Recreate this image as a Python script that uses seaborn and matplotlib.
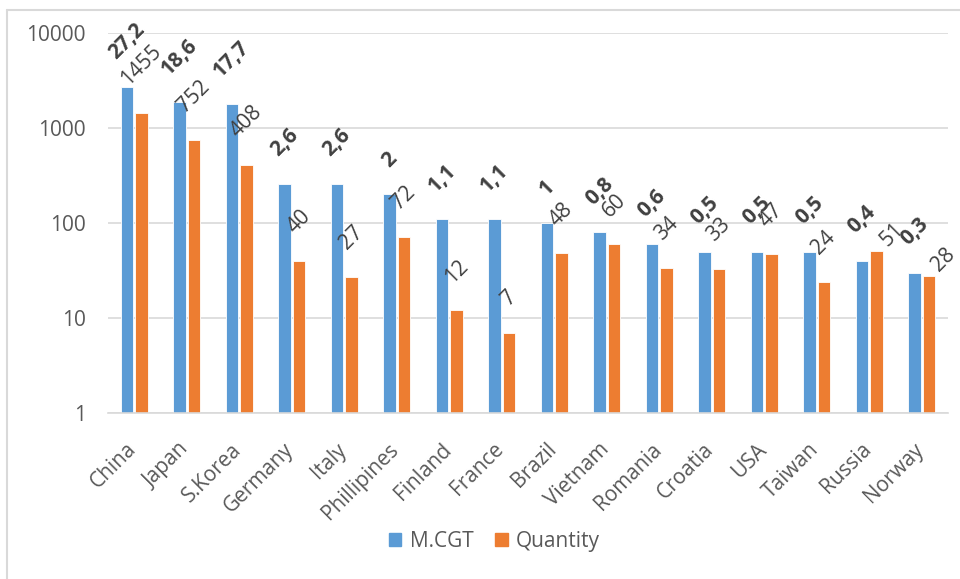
import matplotlib
matplotlib.use("Agg")
import matplotlib.pyplot as plt
from matplotlib.lines import Line2D
import matplotlib.transforms as mtransforms
import seaborn as sns
import pandas as pd

countries = ["China", "Japan", "S.Korea", "Germany", "Italy", "Phillipines", "Finland",
             "France", "Brazil", "Vietnam", "Romania", "Croatia", "USA", "Taiwan",
             "Russia", "Norway"]
mcgt = [27.2, 18.6, 17.7, 2.6, 2.6, 2.0, 1.1, 1.1, 1.0, 0.8, 0.6, 0.5, 0.5, 0.5, 0.4, 0.3]
quantity = [1455, 752, 408, 40, 27, 72, 12, 7, 48, 60, 34, 33, 47, 24, 51, 28]
series = ["M.CGT", "Quantity"]
yticks = [1, 10, 100, 1000, 10000]

# M.CGT is shown on the same log axis in units of 10 000 CGT
CGT_SCALE = 100

blue, orange = "#5B9BD5", "#ED7D31"
label_col = "#404040"
axis_col = "#595959"
grid_col = "#D9D9D9"

df = pd.DataFrame({
    "country": countries * 2,
    "series": [series[0]] * len(countries) + [series[1]] * len(countries),
    "value": [v * CGT_SCALE for v in mcgt] + quantity,
})

sns.set_theme(style="white")
plt.rcParams["font.family"] = ["Open Sans", "DejaVu Sans"]

fig = plt.figure(figsize=(9.6, 5.79), dpi=100)
ax = fig.add_axes([108 / 960, 1 - 413 / 579, 840 / 960, 380 / 579])

sns.barplot(data=df, x="country", y="value", hue="series", order=countries,
            hue_order=series, palette=[blue, orange], saturation=1, width=0.55,
            gap=0.12, edgecolor="white", linewidth=0.6, ax=ax, legend=False)

ax.set_yscale("log")
ax.set_ylim(1, 10000)
ax.set_xlim(-0.5, len(countries) - 0.5)
ax.set_yticks(yticks)
ax.set_yticklabels([str(t) for t in yticks])
ax.minorticks_off()
ax.yaxis.grid(True, color=grid_col, linewidth=1.2)
ax.set_axisbelow(True)
ax.set_xlabel("")
ax.set_ylabel("")
for s in ["left", "right", "top"]:
    ax.spines[s].set_visible(False)
ax.spines["bottom"].set_color(grid_col)
ax.spines["bottom"].set_linewidth(1.2)
ax.tick_params(axis="y", length=0, labelsize=15, labelcolor=axis_col, pad=16)
ax.tick_params(axis="x", length=0, labelsize=15, labelcolor=axis_col, pad=24)
shift = mtransforms.ScaledTranslation(-1 / 100, 0, fig.dpi_scale_trans)
for lbl in ax.get_xticklabels():
    lbl.set_rotation(45)
    lbl.set_ha("right")
    lbl.set_va("center")
    lbl.set_rotation_mode("anchor")
    lbl.set_transform(lbl.get_transform() + shift)

# Rotated value labels above each bar
blue_bars, orange_bars = ax.containers[0], ax.containers[1]
for bar, v in zip(blue_bars, mcgt):
    x = bar.get_x() + bar.get_width() / 2
    ax.annotate(f"{v:g}".replace(".", ","), (x, bar.get_height()),
                xytext=(0, 23), textcoords="offset pixels", rotation=45,
                ha="center", va="bottom", fontsize=15, fontweight="bold",
                color=label_col)

# Two Quantity labels sit beside their bars instead of above
q_offsets = {"Russia": (16, 0), "Norway": (15, 0)}
for bar, v, c in zip(orange_bars, quantity, countries):
    x = bar.get_x() + bar.get_width() / 2
    ax.annotate(f"{v}", (x, bar.get_height()),
                xytext=q_offsets.get(c, (0, 23)), textcoords="offset pixels",
                rotation=45, ha="center", va="bottom", fontsize=15,
                color=label_col)

# Leader line for the Norway label
last = blue_bars[-1]
ax.annotate("", (last.get_x() + last.get_width() / 2 + 3, last.get_height()),
            xytext=(19, 14), textcoords="offset pixels",
            arrowprops=dict(arrowstyle="-", color="#BFBFBF", lw=0.8,
                            shrinkA=0, shrinkB=0))

handles = [plt.Rectangle((0, 0), 1, 1, color=c) for c in (blue, orange)]
fig.legend(handles, series, loc="center", bbox_to_anchor=(0.515, 0.065), ncol=2,
           frameon=False, fontsize=15, handlelength=0.6, handleheight=0.6,
           handletextpad=0.4, columnspacing=1.05, labelcolor=axis_col)

# Chart frame
fig.add_artist(Line2D([7 / 960, 7 / 960], [0, 1 - 10 / 579], color=grid_col, lw=1.5,
                      transform=fig.transFigure))
fig.add_artist(Line2D([7 / 960, 1], [1 - 10 / 579, 1 - 10 / 579], color=grid_col, lw=1.5,
                      transform=fig.transFigure))

fig.savefig("out.png", dpi=100)
